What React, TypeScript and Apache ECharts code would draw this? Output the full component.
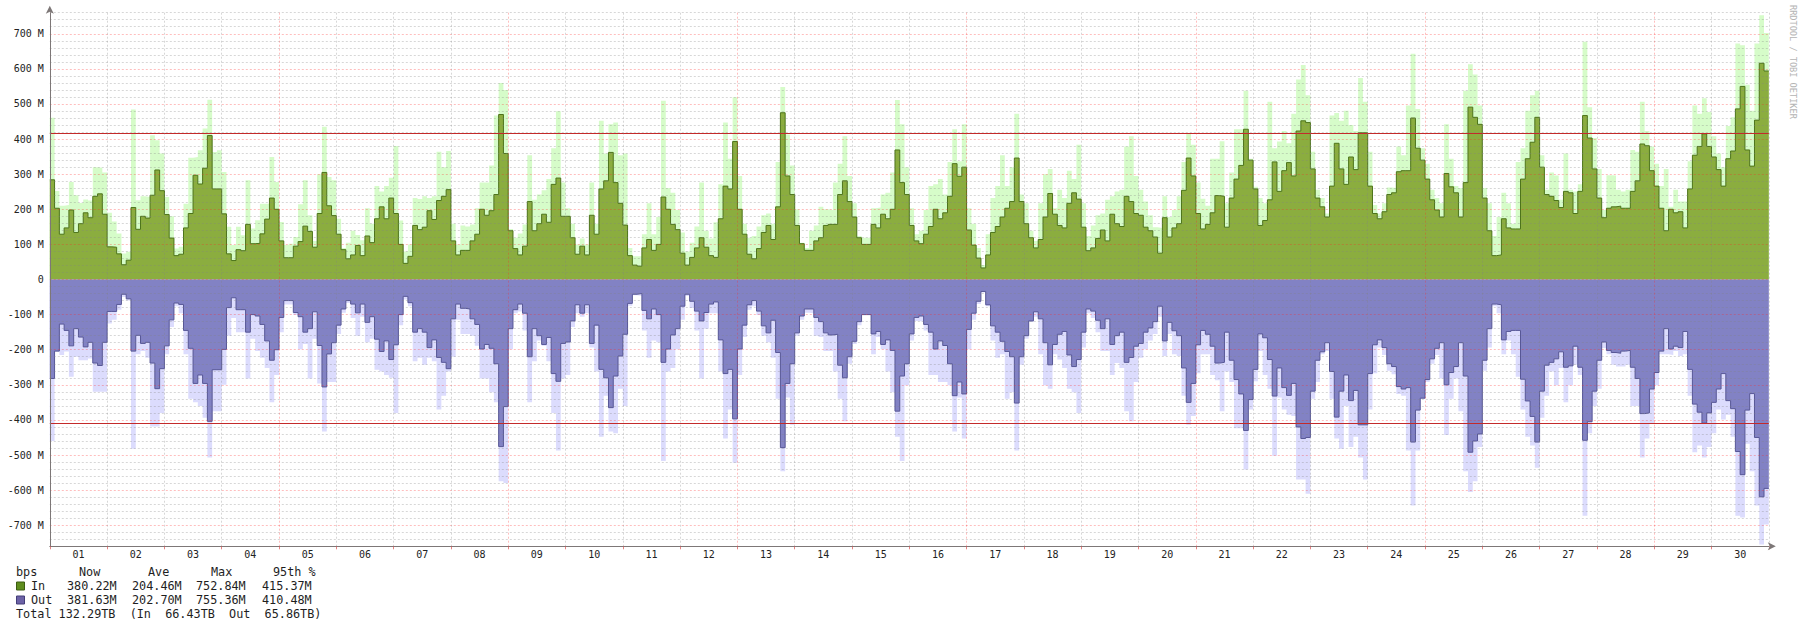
import React, { useEffect, useRef } from 'react';
import * as echarts from 'echarts';

// ---- tick labels ----
const dayLabels = ['01','02','03','04','05','06','07','08','09','10','11','12','13','14','15','16','17','18','19','20','21','22','23','24','25','26','27','28','29','30'];
const yTickLabels = ['-700 M','-600 M','-500 M','-400 M','-300 M','-200 M','-100 M','0','100 M','200 M','300 M','400 M','500 M','600 M','700 M'];

// ---- data (Mbps, one value per 2-hour step, 12 per day) ----
const inAvg = [
  284,203,129,147,198,134,159,190,176,237,244,186,
  93,92,73,42,55,205,143,180,175,240,312,253,
  185,118,68,72,147,188,297,272,317,410,258,258,
  187,73,54,85,82,157,102,103,130,172,232,200,
  110,62,62,95,108,152,137,92,188,305,210,182,
  129,85,59,70,97,68,124,105,173,207,173,232,
  188,100,46,66,154,142,149,196,171,225,237,256,
  110,70,83,83,110,129,200,183,196,242,470,359,
  139,88,70,95,222,139,159,186,163,271,289,180,
  180,119,72,95,70,183,129,258,281,362,276,217,
  155,68,41,38,90,114,83,100,235,200,157,142,
  75,41,63,90,119,92,68,63,173,266,258,393,
  200,129,72,59,88,134,154,114,207,475,295,242,
  154,102,83,83,110,119,154,157,157,242,281,222,
  178,119,100,100,157,147,186,173,200,369,276,242,
  154,110,102,129,151,200,173,190,237,330,294,320,
  141,98,61,33,70,134,151,178,203,222,346,222,
  159,119,90,114,178,245,186,154,147,217,247,229,
  149,82,90,117,141,110,186,159,151,237,222,188,
  183,149,139,121,75,176,121,147,159,254,346,295,
  188,144,157,190,239,237,149,232,286,325,428,340,
  258,154,168,227,335,251,310,333,295,423,452,447,
  315,232,207,178,266,388,315,271,349,313,418,418,
  266,188,173,193,242,247,307,310,310,460,374,340,
  286,227,198,178,302,264,247,178,276,491,462,442,
  232,139,68,70,173,147,144,144,286,344,391,462,
  320,242,237,225,205,251,247,188,251,467,403,315,
  232,176,203,207,209,203,203,251,281,386,381,310,
  266,203,139,200,190,193,147,258,354,379,415,379,
  349,313,266,344,366,486,550,369,323,454,616,594,
];

const inMax = [
  461,252,210,212,278,240,218,228,225,320,318,305,
  190,165,131,74,79,484,226,237,235,411,397,359,
  235,180,88,93,216,347,349,368,430,512,363,368,
  306,150,98,150,126,283,145,169,216,216,349,278,
  164,98,102,121,214,283,183,110,300,435,292,283,
  173,90,105,139,127,112,203,159,266,251,266,290,
  380,168,80,100,232,229,237,232,237,364,320,366,
  159,100,154,151,157,203,276,276,325,467,560,540,
  144,119,131,157,354,227,242,254,286,374,479,276,
  203,159,100,117,100,276,159,452,359,442,447,354,
  359,90,66,66,129,217,129,178,509,261,247,198,
  134,80,105,151,276,139,117,163,271,447,344,519,
  295,159,119,124,151,183,188,159,335,548,413,325,
  200,105,90,139,154,207,200,198,276,330,408,295,
  217,124,119,119,203,205,242,247,305,511,442,320,
  203,129,139,198,266,271,286,242,335,428,337,442,
  203,159,90,41,129,232,266,354,266,320,472,242,
  217,139,110,217,300,315,203,256,232,310,286,384,
  217,124,154,183,188,227,237,251,256,379,408,295,
  256,222,183,149,147,237,178,198,237,335,415,384,
  276,230,210,344,344,394,217,305,428,428,538,344,
  264,232,217,506,374,393,423,388,472,570,611,525,
  364,256,232,188,467,474,452,481,440,423,574,506,
  364,212,188,217,262,261,379,354,496,643,486,374,
  330,256,232,217,442,344,266,261,538,613,584,496,
  261,217,124,178,247,217,159,335,374,481,525,538,
  354,256,305,296,227,359,256,251,271,677,491,403,
  315,198,297,296,256,251,256,369,364,506,423,379,
  330,266,315,207,256,222,222,337,496,472,516,477,
  408,359,320,437,462,672,667,555,481,672,753,702,
];

// outgoing traffic, magnitudes (drawn below zero)
const outAvg = [
  282,204,127,145,189,140,164,192,179,238,245,179,
  91,91,71,42,55,204,159,182,179,238,311,254,
  189,115,67,71,145,196,296,272,296,404,257,257,
  199,80,52,86,86,150,100,104,128,175,230,200,
  108,60,60,94,106,150,140,92,188,306,212,180,
  130,84,60,70,95,70,122,106,170,205,175,228,
  186,100,48,66,150,140,150,194,172,222,236,254,
  112,70,82,84,112,128,198,185,196,240,476,362,
  140,86,70,96,220,140,160,185,165,268,290,182,
  178,118,72,96,72,182,130,256,280,365,275,218,
  156,68,42,40,88,112,84,100,236,198,158,140,
  76,42,62,90,118,94,70,64,172,268,256,397,
  198,130,72,60,90,132,152,116,208,479,296,240,
  152,104,84,84,108,120,152,158,156,244,280,220,
  176,120,100,100,155,148,185,172,202,375,275,240,
  155,108,104,128,150,198,175,188,240,331,292,326,
  142,96,62,34,72,132,150,176,205,220,352,220,
  160,118,92,112,180,243,185,156,148,215,248,228,
  150,84,90,116,140,112,185,160,150,236,222,190,
  182,150,138,120,76,175,122,146,160,252,350,296,
  186,145,156,190,238,236,150,230,285,326,430,342,
  256,155,166,228,332,252,308,330,296,420,453,450,
  318,230,206,180,262,392,318,272,345,316,414,414,
  268,186,172,194,240,248,305,312,308,463,372,338,
  285,226,196,180,300,265,248,180,275,492,460,440,
  230,140,70,72,172,148,145,145,284,346,390,463,
  318,244,236,226,206,250,246,190,250,458,405,318,
  230,178,202,208,210,204,202,250,282,382,380,312,
  265,204,140,198,190,194,148,256,355,378,409,380,
  350,312,268,345,368,490,556,372,325,450,619,595,
];

const outMax = [
  460,205,215,205,277,220,230,230,225,320,320,320,
  125,115,86,50,60,482,213,204,223,419,419,380,
  213,135,76,96,213,340,350,360,394,507,375,375,
  300,160,110,150,150,282,169,204,223,252,350,272,
  150,71,71,101,199,184,282,169,296,433,292,292,
  155,95,67,110,160,106,179,169,257,262,272,280,
  380,130,57,76,233,223,243,223,233,370,331,262,
  220,115,155,155,160,189,282,282,321,350,575,580,
  199,96,91,145,350,233,174,189,233,380,487,282,
  272,135,96,106,96,194,262,448,331,433,438,311,
  360,75,45,47,145,223,174,179,517,262,252,199,
  115,47,81,145,282,140,96,96,262,453,370,522,
  272,164,86,76,101,160,179,223,340,546,336,414,
  160,115,95,96,160,164,204,204,262,340,404,240,
  184,130,101,101,213,164,199,262,321,448,517,301,
  174,118,120,145,272,272,292,292,301,433,336,453,
  199,115,70,37,76,174,223,213,340,321,487,243,
  169,120,106,213,301,311,213,228,252,311,321,380,
  194,96,110,150,204,204,272,238,252,375,404,292,
  223,199,174,155,106,218,155,213,218,331,414,389,
  267,213,213,272,287,375,262,292,424,424,541,370,
  290,204,272,311,502,336,370,385,389,570,570,610,
  340,292,213,204,340,453,482,360,477,448,507,570,
  370,267,194,215,260,270,326,331,487,644,487,340,
  292,240,215,282,443,340,282,375,546,605,575,477,
  260,194,76,96,213,174,213,277,370,448,473,536,
  394,331,262,301,252,350,301,243,272,673,438,360,
  311,195,213,243,248,248,243,360,360,507,453,409,
  301,213,213,215,204,218,213,331,492,473,507,477,
  438,370,399,385,448,673,678,468,546,644,755,698,
];

const p95In = 415.37;
const p95Out = 410.48;

const legendHeader = ['bps', 'Now', 'Ave', 'Max', '95th %'];
const legendNames = ['In', 'Out'];
const inStats = ['380.22M', '204.46M', '752.84M', '415.37M'];
const outStats = ['381.63M', '202.70M', '755.36M', '410.48M'];
const totalLine = 'Total 132.29TB  (In  66.43TB  Out  65.86TB)';
const watermark = 'RRDTOOL / TOBI OETIKER';

const HOURS_PER_STEP = 2;
const HOURS_TOTAL = dayLabels.length * 24;

const MONO = '"DejaVu Sans Mono", monospace';
const MAJOR = 'rgba(255,40,40,0.30)';
const MINOR = 'rgba(130,130,130,0.32)';

function stepPoints(vals: number[], sign: number) {
  const pts: number[][] = [];
  vals.forEach((v, i) => {
    pts.push([i * HOURS_PER_STEP, sign * v]);
    pts.push([(i + 1) * HOURS_PER_STEP, sign * v]);
  });
  return pts;
}

export default function App() {
  const ref = useRef<HTMLDivElement>(null);
  useEffect(() => {
    if (!ref.current) return;
    const chart = echarts.init(ref.current, undefined, { renderer: 'svg' });

    const headerX = [16, 79, 148, 211, 273];
    const statX = [67, 132, 196, 262];
    const rowY = [572, 586, 600, 614];
    const txt = (text: string, x: number, y: number) => ({
      type: 'text', x, y, silent: true,
      style: { text, fill: '#1e1e1e', font: `11.8px ${MONO}`, textAlign: 'left', textVerticalAlign: 'middle' },
    });
    const graphics: any[] = [];
    legendHeader.forEach((h, i) => graphics.push(txt(h, headerX[i], rowY[0])));
    graphics.push({ type: 'rect', shape: { x: 16.5, y: 582, width: 8, height: 8 }, style: { fill: '#5f8d1e', stroke: '#3c5c12', lineWidth: 1 } });
    graphics.push({ type: 'rect', shape: { x: 16.5, y: 596, width: 8, height: 8 }, style: { fill: '#6c62a6', stroke: '#433d78', lineWidth: 1 } });
    graphics.push(txt(legendNames[0], 31, rowY[1]));
    graphics.push(txt(legendNames[1], 31, rowY[2]));
    inStats.forEach((s, i) => graphics.push(txt(s, statX[i], rowY[1])));
    outStats.forEach((s, i) => graphics.push(txt(s, statX[i], rowY[2])));
    graphics.push(txt(totalLine, 16, rowY[3]));
    graphics.push({
      type: 'text', x: 1792.5, y: 5, rotation: -Math.PI / 2, silent: true,
      style: { text: watermark, fill: '#b4b4b4', font: `8.6px ${MONO}`, textAlign: 'left', textVerticalAlign: 'middle' },
    });

    const dayTicks = dayLabels.map((_, i) => i * 24).concat([HOURS_TOTAL]);

    const option: any = {
      animation: false,
      backgroundColor: '#ffffff',
      grid: { left: 49.8, right: 31.2, top: 12.7, bottom: 81.7, containLabel: false },
      xAxis: {
        type: 'value', min: 0, max: HOURS_TOTAL, interval: 6, z: 10,
        axisLine: { show: true, onZero: false, lineStyle: { color: '#7d7777', width: 1 }, symbol: ['none', 'arrow'], symbolSize: [6, 8], symbolOffset: [0, 7] },
        axisTick: { show: true, length: 3, customValues: dayTicks, lineStyle: { color: 'rgba(220,80,80,0.7)' } },
        axisLabel: {
          interval: 0, margin: 3, fontFamily: MONO, fontSize: 10, color: '#222',
          showMinLabel: true, showMaxLabel: true,
          formatter: (v: number) => (Math.round(v) % 24 === 12 ? dayLabels[(Math.round(v) - 12) / 24] : ''),
        },
        splitLine: { show: true, lineStyle: { color: [MAJOR, MINOR, MINOR, MINOR], width: 1, type: [2, 2] } },
      },
      yAxis: {
        type: 'value', min: -760, max: 760, interval: 20, z: 10,
        axisLine: { show: true, onZero: false, lineStyle: { color: '#7d7777', width: 1 }, symbol: ['none', 'arrow'], symbolSize: [6, 8], symbolOffset: [0, 7] },
        axisTick: { show: false },
        axisLabel: {
          margin: 6, fontFamily: MONO, fontSize: 10, color: '#222',
          formatter: (v: number) => {
            const r = Math.round(v);
            if (r % 100 !== 0) return '';
            return yTickLabels[(r + 700) / 100] ?? '';
          },
        },
        splitLine: { show: true, lineStyle: { color: [MINOR, MINOR, MINOR, MAJOR, MINOR], width: 1, type: [2, 2] } },
      },
      series: [
        {
          name: 'In max', type: 'line', data: stepPoints(inMax, 1), symbol: 'none', silent: true, z: 1,
          lineStyle: { width: 0, opacity: 0 }, areaStyle: { color: '#d6fcc9', opacity: 1 }, emphasis: { disabled: true },
        },
        {
          name: 'Out max', type: 'line', data: stepPoints(outMax, -1), symbol: 'none', silent: true, z: 1,
          lineStyle: { width: 0, opacity: 0 }, areaStyle: { color: '#dcdcfd', opacity: 1 }, emphasis: { disabled: true },
        },
        {
          name: 'In', type: 'line', data: stepPoints(inAvg, 1), symbol: 'none', silent: true, z: 2,
          lineStyle: { width: 1, color: '#4d741b' }, areaStyle: { color: '#8bad3f', opacity: 1 }, emphasis: { disabled: true },
        },
        {
          name: 'Out', type: 'line', data: stepPoints(outAvg, -1), symbol: 'none', silent: true, z: 2,
          lineStyle: { width: 1, color: '#575796' }, areaStyle: { color: '#8282c4', opacity: 1 }, emphasis: { disabled: true },
          markLine: {
            silent: true, symbol: ['none', 'none'], label: { show: false }, animation: false,
            lineStyle: { color: '#c42a2a', width: 1, type: 'solid' },
            data: [{ yAxis: p95In }, { yAxis: -p95Out }],
          },
        },
      ],
      graphic: graphics,
    };
    chart.setOption(option);
    return () => chart.dispose();
  }, []);

  return <div ref={ref} style={{ position: 'absolute', left: 0, top: 0, width: 1800, height: 628 }} />;
}
